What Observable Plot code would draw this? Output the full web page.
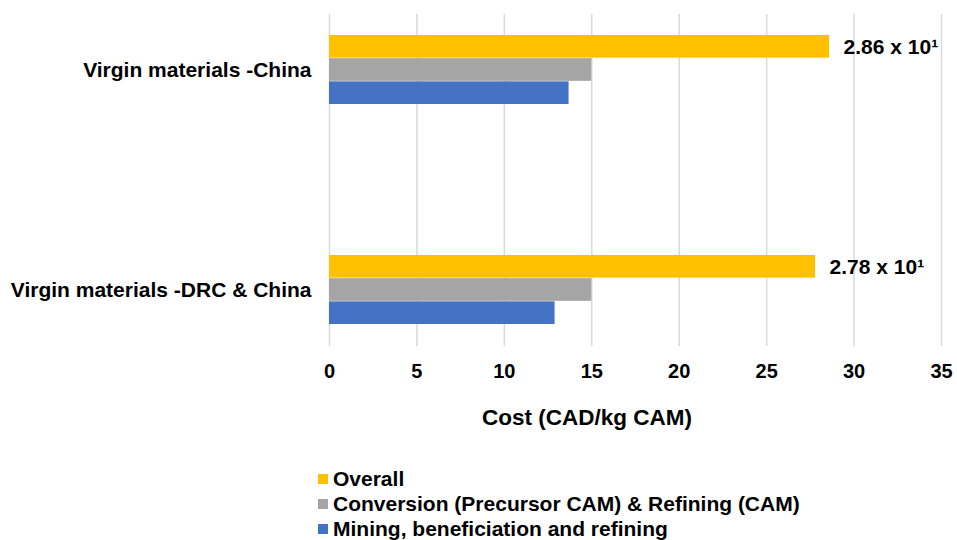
<!DOCTYPE html>
<html><head><meta charset="utf-8">
<script src="https://cdn.jsdelivr.net/npm/d3@7"></script>
<script src="https://cdn.jsdelivr.net/npm/@observablehq/plot@0.6"></script>
<style>
body{margin:0;background:#fff;font-family:"Liberation Sans",Arial,sans-serif;color:#000;}
#wrap{position:relative;width:957px;height:540px;overflow:hidden;}
#xtitle{position:absolute;left:587px;top:405px;transform:translateX(-50%);font-size:22.5px;font-weight:bold;line-height:26px;white-space:nowrap;}
#legend{position:absolute;left:318px;top:466px;font-size:21px;font-weight:bold;}
.row{display:flex;align-items:center;height:25px;white-space:nowrap;}
.sw{width:10px;height:10px;margin-right:5px;}
</style></head><body>
<div id="wrap"><div id="chart"></div><div id="xtitle">Cost (CAD/kg CAM)</div><div id="legend"></div></div>
<script>
const categories = ["Virgin materials -China", "Virgin materials -DRC & China"];
const seriesNames = ["Overall", "Conversion (Precursor CAM) & Refining (CAM)", "Mining, beneficiation and refining"];
const seriesColors = ["#FFC000", "#A5A5A5", "#4472C4"];
const overall = [28.6, 27.8];
const conversion = [15.0, 15.0];
const mining = [13.7, 12.9];
const overallLabels = ["2.86 x 10\u00B9", "2.78 x 10\u00B9"];
const xTicks = [0, 5, 10, 15, 20, 25, 30, 35];

const W = 957, H = 395, mT = 14, mB = 49, mL = 329, mR = 16;
const pI = 0.6845, pO = 0.0958;
const step = (H - mT - mB) / (categories.length - pI + 2 * pO);
const third = step * (1 - pI) / 3;

const seriesValues = [overall, conversion, mining];
const rows = seriesNames.map((s, k) => categories.map((c, i) => ({category: c, series: s, value: seriesValues[k][i]})));
const labelRows = categories.map((c, i) => ({category: c, value: overall[i], label: overallLabels[i]}));

const chart = Plot.plot({
  width: W, height: H,
  marginTop: mT, marginBottom: mB, marginLeft: mL, marginRight: mR,
  style: {fontSize: "20px", fontWeight: "bold", fontFamily: "'Liberation Sans', Arial, sans-serif", color: "#000", background: "#fff"},
  x: {domain: [0, 35], ticks: xTicks, tickSize: 0, tickPadding: 17, tickFormat: d3.format("d"), label: null},
  y: {domain: categories, paddingInner: pI, paddingOuter: pO, tickSize: 0, tickPadding: 18, label: null},
  marks: [
    Plot.ruleX(xTicks, {stroke: "#D9D9D9", strokeWidth: 1.5}),
    ...rows.map((data, k) => Plot.barX(data, {
      x: "value", y: "category", fill: seriesColors[k],
      insetTop: k * third, insetBottom: (2 - k) * third
    })),
    Plot.text(labelRows, {x: "value", y: "category", text: "label", textAnchor: "start", dx: 14, dy: -third, fontSize: 21, fontWeight: "bold", fill: "#000"})
  ]
});
// enlarge y-axis category labels slightly
chart.querySelectorAll("g[aria-label='y-axis tick label'] text, g[aria-label='y-axis'] text").forEach(t => t.setAttribute("font-size", "21"));
document.getElementById("chart").appendChild(chart);

const legend = document.getElementById("legend");
seriesNames.forEach((s, k) => {
  const r = document.createElement("div"); r.className = "row";
  const sw = document.createElement("span"); sw.className = "sw"; sw.style.background = seriesColors[k];
  const t = document.createElement("span"); t.textContent = s;
  r.appendChild(sw); r.appendChild(t); legend.appendChild(r);
});
</script>
</body></html>
